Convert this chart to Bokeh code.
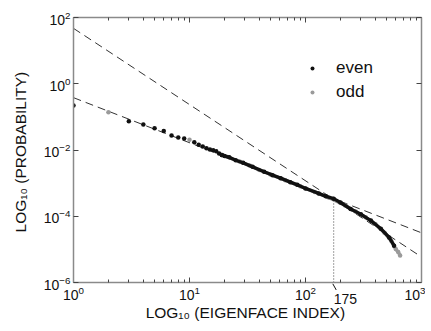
from bokeh.plotting import figure
from bokeh.models import (LogAxis, FixedTicker, Legend, LegendItem,
                          Arrow, NormalHead, Range1d, CustomJSTickFormatter)
from bokeh.embed import file_html
from bokeh.resources import INLINE

# ---- data ----
# sparse, individually visible points
even_sparse_idx = [1, 3, 4, 5, 6, 7, 8, 9, 11, 12, 13, 14, 15, 16, 17, 18, 19]
even_sparse_p = [0.219, 0.0741, 0.0589, 0.0457, 0.0372, 0.0275, 0.0240, 0.0224,
                 0.0171, 0.0143, 0.0127, 0.0112, 0.0103, 0.0098, 0.0091, 0.0079, 0.0071]
odd_sparse_idx = [2, 10]
odd_sparse_p = [0.138, 0.0204]

# dense part of the spectrum (points merge into a thick band)
even_dense_idx = [19, 20, 22, 25, 29, 35, 44, 52, 61, 74, 85, 100, 130, 150,
                  175, 200, 245, 300, 366, 446, 526, 580]
even_dense_p = [0.0071, 6.6e-3, 6.0e-3, 4.9e-3, 4.1e-3, 3.1e-3, 2.2e-3, 1.74e-3,
                1.41e-3, 1.07e-3, 8.9e-4, 6.9e-4, 4.9e-4, 4.0e-4, 3.4e-4, 2.6e-4,
                1.66e-4, 1.15e-4, 7.4e-5, 4.2e-5, 2.3e-5, 1.29e-5]
odd_dense_idx = [21, 27, 33, 40, 50, 67, 90, 120, 160, 220, 270, 330, 400, 480,
                 550, 600, 630, 654]
odd_dense_p = [6.3e-3, 4.5e-3, 3.4e-3, 2.5e-3, 1.82e-3, 1.23e-3, 8.1e-4, 5.4e-4,
               3.6e-4, 2.1e-4, 1.38e-4, 9.3e-5, 5.8e-5, 3.2e-5, 1.78e-5, 1.02e-5,
               8.3e-6, 6.5e-6]

# two power-law fits (end points at x = 1 and x = 1000)
fit_x = [1, 1000]
fit_steep_p = [47.0, 5.9e-6]
fit_shallow_p = [0.38, 3.16e-5]

# knee of the spectrum
knee_idx = 175
knee_p = 3.4e-4

x_ticks = [1, 10, 100, 1000]
x_minor = [m * d for d in (1, 10, 100) for m in range(2, 10)]
y_ticks = [1e-6, 1e-4, 1e-2, 1, 1e2]

FONT = "Liberation Sans"
AXC = "#8a8a8a"

p = figure(width=425, height=325, x_axis_type="log", y_axis_type="log",
           x_range=Range1d(1, 1000), y_range=Range1d(1e-6, 1e2),
           output_backend="svg", toolbar_location=None,
           min_border_left=73, min_border_right=4, min_border_top=17,
           min_border_bottom=43)
p.grid.visible = False
p.outline_line_color = None
p.background_fill_color = "white"
p.border_fill_color = "white"

p.xaxis.ticker = FixedTicker(ticks=x_ticks, minor_ticks=x_minor)
p.yaxis.ticker = FixedTicker(ticks=y_ticks, minor_ticks=[])
for ax in (p.xaxis[0], p.yaxis[0]):
    ax.axis_line_color = AXC
    ax.axis_line_width = 1.5
    ax.major_tick_in = 5
    ax.major_tick_out = 0
    ax.minor_tick_in = 3
    ax.minor_tick_out = 0
    ax.major_tick_line_color = "#444444"
    ax.minor_tick_line_color = "#444444"
    ax.major_label_text_font = FONT
    ax.major_label_text_font_size = "14px"
    ax.major_label_text_color = "#111111"
    ax.axis_label_text_font = FONT
    ax.axis_label_text_font_size = "15.5px"
    ax.axis_label_text_font_style = "normal"
    ax.axis_label_text_color = "#111111"
    ax.major_label_standoff = 3
p.yaxis.axis_label = "LOG\u2081\u2080  (PROBABILITY)"
p.yaxis.axis_label_standoff = 12

# second bottom axis: carries the "175" knee label and the x-axis title
knee_axis = LogAxis(ticker=FixedTicker(ticks=[knee_idx], minor_ticks=[]),
                    formatter=CustomJSTickFormatter(
                        code="return '\u00a0\u00a0\u00a0\u00a0\u00a0\u00a0' + tick.toFixed(0)"),
                    axis_line_color=None, major_tick_in=0, major_tick_out=0,
                    minor_tick_in=0, minor_tick_out=0,
                    major_label_standoff=-12,
                    major_label_text_font=FONT, major_label_text_font_size="14px",
                    major_label_text_color="#111111",
                    axis_label="LOG\u2081\u2080  (EIGENFACE INDEX)",
                    axis_label_standoff=-6, axis_label_text_font=FONT,
                    axis_label_text_font_size="15.5px",
                    axis_label_text_font_style="normal",
                    axis_label_text_color="#111111")
p.add_layout(knee_axis, "below")

for side, tk in (("above", FixedTicker(ticks=x_ticks, minor_ticks=x_minor)),
                 ("right", FixedTicker(ticks=y_ticks, minor_ticks=[]))):
    ax = LogAxis(ticker=tk, formatter=CustomJSTickFormatter(code="return ''"),
                 major_label_text_font_size="1px",
                 major_label_standoff=0, axis_line_color=AXC, axis_line_width=1.5,
                 major_tick_in=5, major_tick_out=0, minor_tick_in=3, minor_tick_out=0,
                 major_tick_line_color="#444444", minor_tick_line_color="#444444")
    p.add_layout(ax, side)

# fit lines
p.line(fit_x, fit_steep_p, line_color="#333333", line_width=1, line_dash="8 5")
p.line(fit_x, fit_shallow_p, line_color="#333333", line_width=1, line_dash="8 5")

# knee marker
p.line([knee_idx, knee_idx], [1e-6, knee_p], line_color="#444444",
       line_width=1, line_dash="1 2")

# dense bands
p.line(odd_dense_idx, odd_dense_p, line_color="#9a9a9a", line_width=3.4)
odd_sc = p.scatter(odd_sparse_idx + odd_dense_idx, odd_sparse_p + odd_dense_p,
                   size=4.5, color="#9a9a9a", line_color=None)
p.line(even_dense_idx, even_dense_p, line_color="#111111", line_width=3.4)
even_sc = p.scatter(even_sparse_idx + even_dense_idx, even_sparse_p + even_dense_p,
                    size=4.5, color="#111111", line_color=None)

legend = Legend(items=[LegendItem(label="even", renderers=[even_sc]),
                       LegendItem(label="odd", renderers=[odd_sc])],
                location=(234, 180), border_line_color=None,
                background_fill_alpha=0, padding=0, margin=0, spacing=4,
                glyph_width=10, glyph_height=10, label_height=20,
                label_standoff=19, label_text_font=FONT,
                label_text_font_size="17px", label_text_color="#111111")
p.add_layout(legend)

p.add_layout(Arrow(end=NormalHead(size=7, fill_color="#111111", line_color="#111111"),
                   x_start=190, y_start=4.9e-7, x_end=172, y_end=9.1e-7,
                   line_color="#111111", line_width=1))

open("out.html", "w").write(file_html(p, INLINE))
